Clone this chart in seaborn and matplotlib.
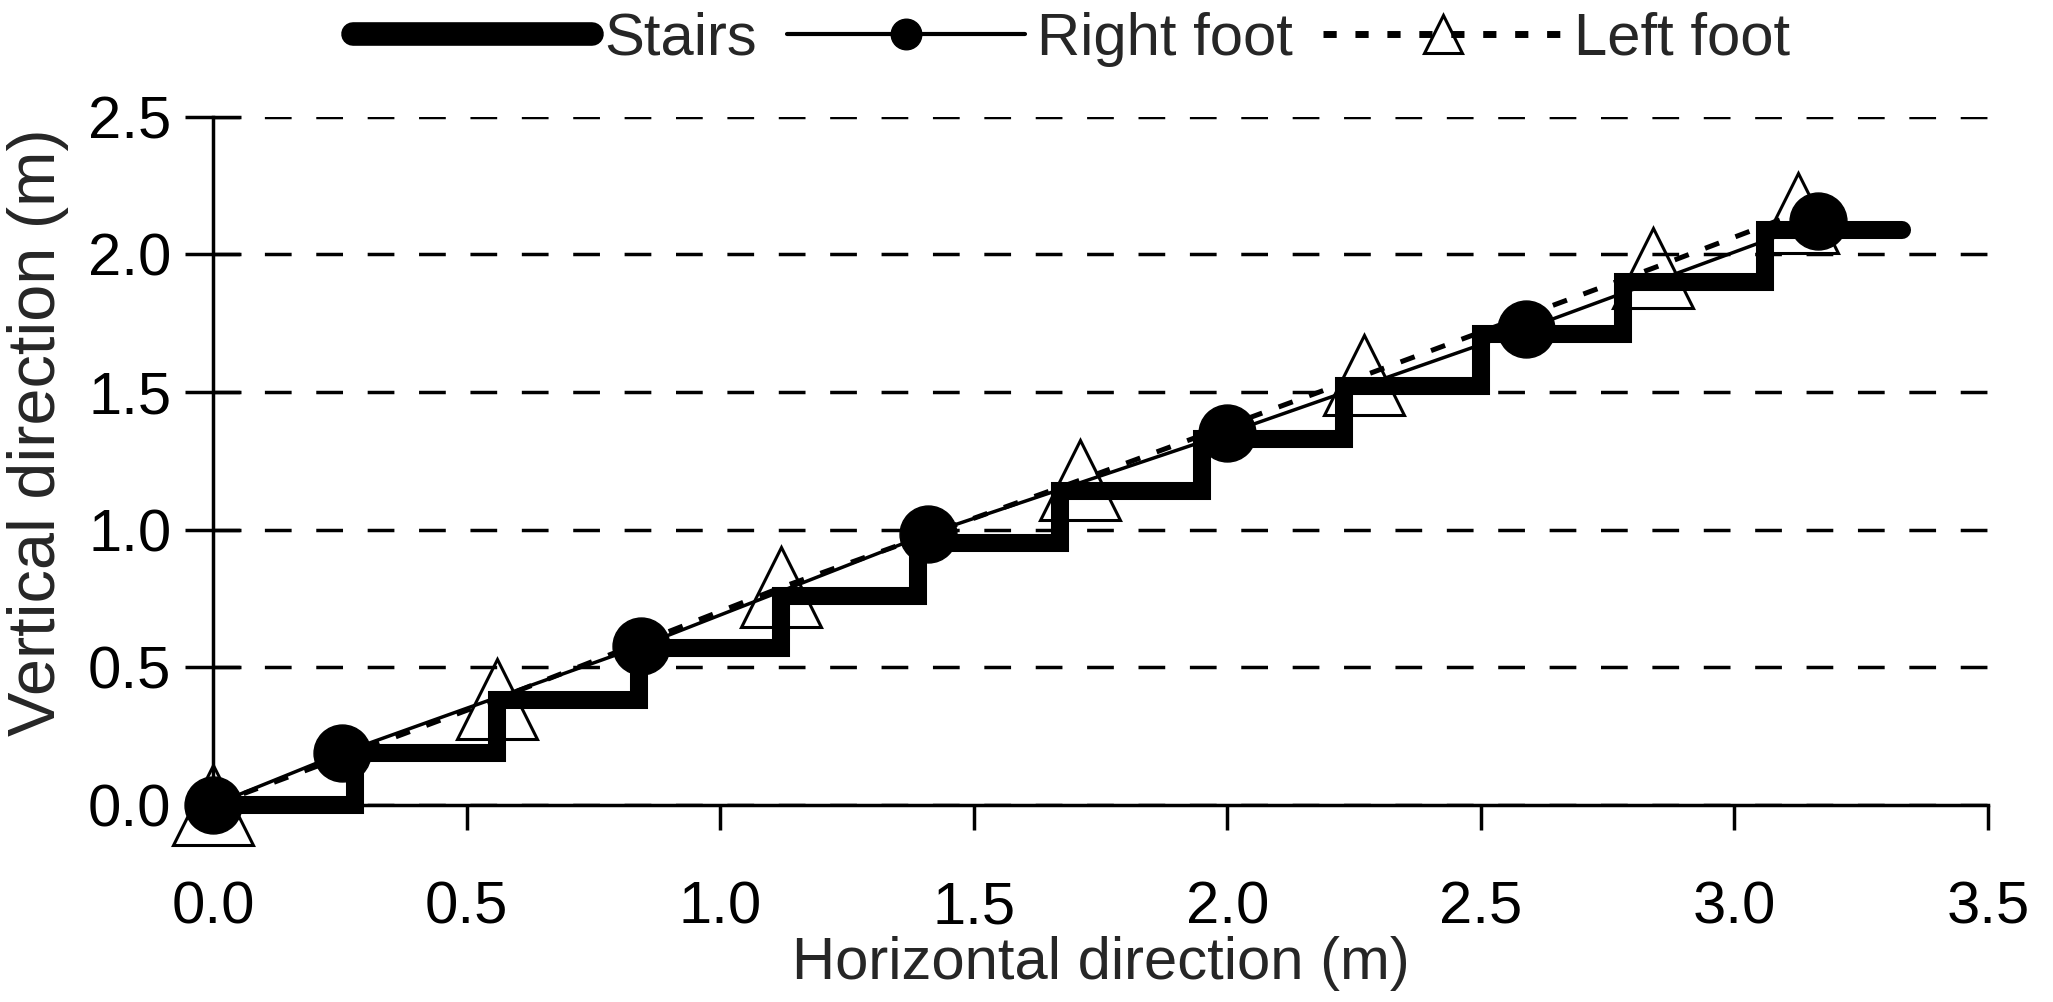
import seaborn as sns
import matplotlib.pyplot as plt
from matplotlib.lines import Line2D

# stair profile (step corners), right and left foot positions, in metres
stairs_x = [0, 0.28, 0.56, 0.84, 1.12, 1.39, 1.67, 1.95, 2.23, 2.50, 2.78, 3.06, 3.33]
stairs_y = [0, 0.19, 0.38, 0.57, 0.76, 0.95, 1.14, 1.33, 1.52, 1.71, 1.90, 2.09, 2.09]

right_x = [0, 0.255, 0.843, 1.41, 2.00, 2.59, 3.165]
right_y = [0, 0.19, 0.577, 0.985, 1.35, 1.73, 2.12]

left_x = [0, 0.56, 1.12, 1.71, 2.27, 2.84, 3.125]
left_y = [0, 0.385, 0.79, 1.18, 1.56, 1.95, 2.15]

x_ticks = [0.0, 0.5, 1.0, 1.5, 2.0, 2.5, 3.0, 3.5]
y_ticks = [0.0, 0.5, 1.0, 1.5, 2.0, 2.5]

sns.set_style("white")
plt.rcParams['font.family'] = ['Liberation Sans', 'DejaVu Sans']
FS = 43

fig = plt.figure(figsize=(20.53, 10.02), dpi=100)
ax = fig.add_axes([0.1038, 0.1966, 0.8645, 0.687])

# Left foot (dotted + open triangles)
sns.lineplot(x=left_x, y=left_y, ax=ax, color='black', lw=3.6,
             linestyle=(0, (3, 3.5)), marker='^', markersize=58,
             markerfacecolor='none', markeredgecolor='black',
             markeredgewidth=2.2, clip_on=False, zorder=3)

# Stairs (thick step line)
sns.lineplot(x=stairs_x, y=stairs_y, ax=ax, color='black', lw=13,
             drawstyle='steps-post', solid_capstyle='round',
             solid_joinstyle='miter', clip_on=False, zorder=4)

# Right foot (solid + filled circles)
sns.lineplot(x=right_x, y=right_y, ax=ax, color='black', lw=2.5,
             marker='o', markersize=41, markerfacecolor='black',
             markeredgecolor='black', markeredgewidth=1,
             clip_on=False, zorder=5)

ax.set_xlim(0, 3.5)
ax.set_ylim(0, 2.5)
ax.set_xticks(x_ticks)
ax.set_yticks(y_ticks)
ax.set_xticklabels([f"{v:.1f}" for v in x_ticks], fontsize=FS)
ax.set_yticklabels([f"{v:.1f}" for v in y_ticks], fontsize=FS)

ax.yaxis.grid(True, color='black', linestyle=(0, (7.7, 7.1)), lw=2.5)
ax.xaxis.grid(False)
ax.set_axisbelow(True)

for s in ['top', 'right']:
    ax.spines[s].set_visible(False)
for s in ['left', 'bottom']:
    ax.spines[s].set_color('black')
    ax.spines[s].set_linewidth(2.5)

ax.tick_params(axis='y', direction='inout', length=40, width=2.5, pad=10,
               colors='black', left=True)
ax.tick_params(axis='x', direction='out', length=18, width=2.5, pad=36,
               colors='black', bottom=True)

ax.set_xlabel("Horizontal direction (m)", fontsize=FS)
ax.set_ylabel("Vertical direction (m)", fontsize=48)
ax.xaxis.set_label_coords(0.5, -0.19)
ax.yaxis.set_label_coords(-0.081, 0.542)

handles = [
    Line2D([], [], color='black', lw=17, solid_capstyle='round'),
    Line2D([], [], color='black', lw=3, marker='o', markersize=22),
    Line2D([], [], color='black', lw=5, linestyle=(0, (1.9, 2.7)),
           marker='^', markersize=27, markerfacecolor='none',
           markeredgewidth=2.2),
]
fig.legend(handles, ["Stairs", "Right foot", "Left foot"], loc='center',
           bbox_to_anchor=(0.522, 0.961), ncol=3, frameon=False,
           fontsize=FS, handlelength=4, handletextpad=0.2,
           columnspacing=0.5)

plt.savefig("out.png", dpi=100)
